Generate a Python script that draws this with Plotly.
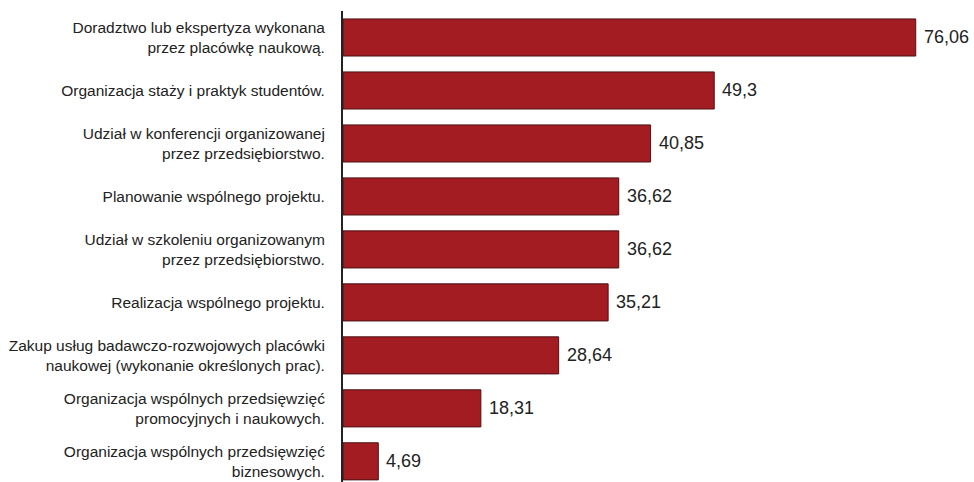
import plotly.graph_objects as go

categories = [
    "Doradztwo lub ekspertyza wykonana<br>przez placówkę naukową.",
    "Organizacja staży i praktyk studentów.",
    "Udział w konferencji organizowanej<br>przez przedsiębiorstwo.",
    "Planowanie wspólnego projektu.",
    "Udział w szkoleniu organizowanym<br>przez przedsiębiorstwo.",
    "Realizacja wspólnego projektu.",
    "Zakup usług badawczo-rozwojowych placówki<br>naukowej (wykonanie określonych prac).",
    "Organizacja wspólnych przedsięwzięć<br>promocyjnych i naukowych.",
    "Organizacja wspólnych przedsięwzięć<br>biznesowych.",
]
values = [76.06, 49.3, 40.85, 36.62, 36.62, 35.21, 28.64, 18.31, 4.69]
value_labels = [f"{v:g}".replace(".", ",") for v in values]

FONT = "Liberation Sans, Arial, sans-serif"

fig = go.Figure()
fig.add_trace(go.Bar(
    x=values,
    y=categories,
    orientation="h",
    marker=dict(color="#a31c21", line=dict(color="#4a1214", width=1)),
    width=0.7,
    hoverinfo="skip",
))

for cat, v, lab in zip(categories, values, value_labels):
    fig.add_annotation(
        x=v, y=cat, text=lab, showarrow=False,
        xanchor="left", yanchor="middle", xshift=6,
        font=dict(family=FONT, size=18, color="#222222"),
    )

fig.update_layout(
    width=974, height=482,
    margin=dict(l=343, r=0, t=11, b=0),
    paper_bgcolor="white", plot_bgcolor="white",
    showlegend=False,
    font=dict(family=FONT, color="#222222"),
)
fig.update_xaxes(
    range=[0, 83.8], showgrid=False, zeroline=False,
    showticklabels=False, showline=False,
)
fig.update_yaxes(
    type="category", range=[8.39, -0.5], showgrid=False, zeroline=False,
    showline=True, linecolor="#222222", linewidth=2,
    ticks="", ticklabelstandoff=13,
    tickfont=dict(family=FONT, size=15.5, color="#222222"),
)

fig.write_html("out.html")
